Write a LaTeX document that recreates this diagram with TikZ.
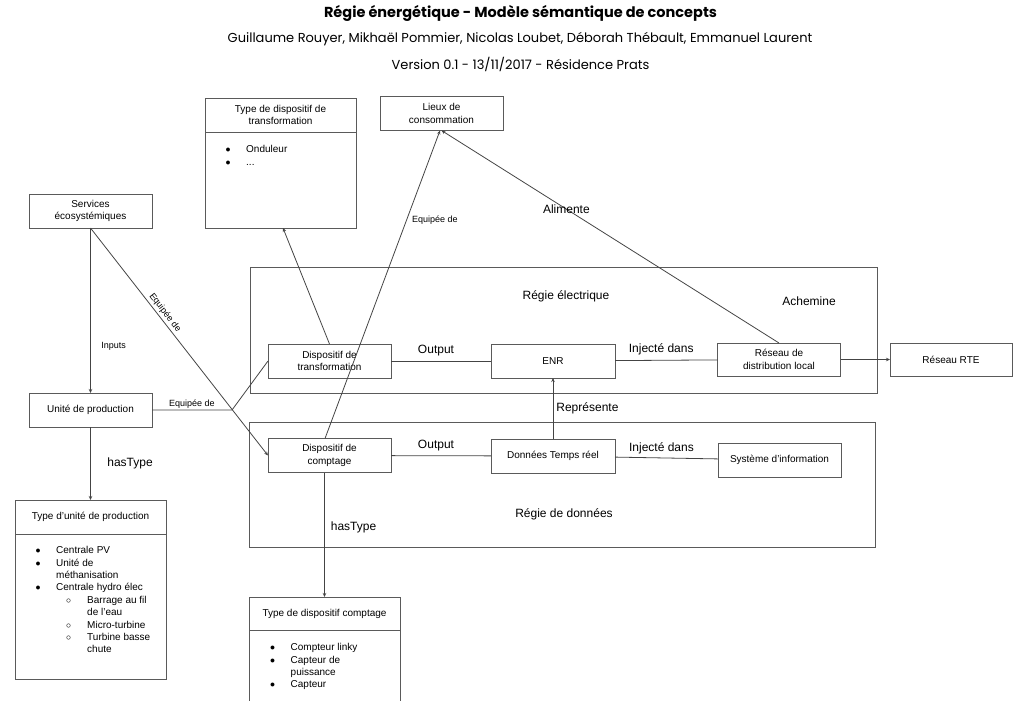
\documentclass[tikz,border=0pt]{standalone}
\usepackage{fontspec}
\setmainfont{Liberation Sans}
\newfontfamily\titrefont{Poppins}
\usetikzlibrary{positioning,arrows.meta}

\definecolor{bordure}{HTML}{5A5A5A}
\definecolor{trait}{HTML}{444444}

\tikzset{
  boite/.style={draw=bordure, line width=1pt, outer sep=0pt, inner sep=1pt,
    minimum width=123pt, minimum height=34pt, align=center,
    font=\fontsize{10}{12.5}\selectfont},
  zone/.style={draw=bordure, line width=1pt, outer sep=0pt},
  liste/.style={align=left, inner sep=0pt, font=\fontsize{10}{12.4}\selectfont},
  petit/.style={font=\fontsize{9}{11}\selectfont, inner sep=0pt},
  grand/.style={font=\fontsize{12}{14}\selectfont, inner sep=0pt},
  lien/.style={draw=trait, line width=0.8pt},
  fleche/.style={-{Stealth[length=4pt,width=3.5pt]}},
}

\newcommand{\puce}{\makebox[20.5pt][l]{$\bullet$}}
\newcommand{\souspuce}{\hspace*{30.5pt}\makebox[21pt][l]{$\circ$}}

\begin{document}
\begin{tikzpicture}[x=1pt,y=-1pt]
  \path[use as bounding box, clip] (0,0) rectangle (1015,701);

  % titre
  \node[font=\titrefont\bfseries\fontsize{14.5}{16}\selectfont] (titre) at (520.5,13)
    {Régie énergétique - Modèle sémantique de concepts};
  \node[font=\titrefont\fontsize{13}{15}\selectfont] (auteurs) at (520,39)
    {Guillaume Rouyer, Mikhaël Pommier, Nicolas Loubet, Déborah Thébault, Emmanuel Laurent};
  \node[font=\titrefont\fontsize{13}{15}\selectfont] (version) at (520.5,64)
    {Version 0.1 - 13/11/2017 - Résidence Prats};

  % regies
  \node[zone, minimum width=627pt, minimum height=126pt] (regieelec) at (563.5,330) {};
  \node[zone, minimum width=626pt, minimum height=125pt] (regiedonnees) at (562,484.5) {};
  \node[grand] (titreelec) at (566,296) {Régie électrique};
  \node[grand] (titredonnees) at (564,514) {Régie de données};
  \node[grand] (achemine) at (809,301) {Achemine};

  % concepts
  \node[boite] (services) at (90.5,211) {Services\\écosystémiques};
  \node[boite] (unite) at (90.5,410) {Unité de production};
  \node[boite] (lieux) at (441.5,113.5) {Lieux de\\consommation};
  \node[boite] (disptransfo) at (329.5,361) {Dispositif de\\transformation};
  \node[boite] (dispcomptage) at (329.5,455.5) {Dispositif de\\comptage};
  \node[boite, minimum width=124pt] (enr) at (553,361) {ENR};
  \node[boite, minimum width=124pt] (donnees) at (553,456) {Données Temps réel};
  \node[boite, minimum height=33pt] (reseau) at (779,359.5) {Réseau de\\distribution local};
  \node[boite] (systeme) at (779.5,460) {Système d’information};
  \node[boite, minimum width=122pt, minimum height=33pt] (rte) at (951,359.5) {Réseau RTE};

  % types
  \node[boite, minimum width=151pt] (tetetransfo) at (280.5,115) {Type de dispositif de\\transformation};
  \node[boite, minimum width=151pt, minimum height=96pt, below=0pt of tetetransfo] (corpstransfo) {};
  \node[liste, below right=13.3pt and 20.5pt of corpstransfo.north west] (listetransfo)
    {\puce Onduleur\\ \puce ...};

  \node[boite, minimum width=151pt] (teteunite) at (90.5,517) {Type d’unité de production};
  \node[boite, minimum width=151pt, minimum height=145pt, below=0pt of teteunite] (corpsunite) {};
  \node[liste, below right=12.3pt and 20.5pt of corpsunite.north west] (listeunite)
    {\puce Centrale PV\\
     \puce Unité de\\
     \hspace*{20.5pt}méthanisation\\
     \puce Centrale hydro élec\\
     \souspuce Barrage au fil\\
     \hspace*{51.5pt}de l’eau\\
     \souspuce Micro-turbine\\
     \souspuce Turbine basse\\
     \hspace*{51.5pt}chute};

  \node[boite, minimum width=151pt, minimum height=33pt] (tetecomptage) at (324.5,613.5) {Type de dispositif comptage};
  \node[boite, minimum width=151pt, minimum height=90pt, below=0pt of tetecomptage] (corpscomptage) {};
  \node[liste, below right=13.3pt and 21pt of corpscomptage.north west] (listecomptage)
    {\puce Compteur linky\\
     \puce Capteur de\\
     \hspace*{20.5pt}puissance\\
     \puce Capteur};

  \coordinate (coude) at (232,410);

  % relations
  \begin{scope}[lien]
    \draw[fleche] (services) -- node[petit, pos=0.72, right=10.5pt] (inputs) {Inputs} (unite);
    \draw[fleche] (unite) -- node[grand, midway, right=16.5pt] (hastypeunite) {hasType} (teteunite);
    \draw[fleche] (services.south) -- node[petit, pos=0.39, sloped, above=2pt] (equipeeservices) {Equipée de} (dispcomptage.west);
    \draw (unite.east) -- node[petit, midway, above=1pt] (equipeeunite) {Equipée de} (coude) -- (disptransfo.west);
    \draw[fleche] (disptransfo.north) -- ([xshift=2.5pt]corpstransfo.south);
    \draw[fleche] ([xshift=-4.5pt]dispcomptage.north) -- node[petit, pos=0.71, right=5pt] (equipeelieux) {Equipée de} ([xshift=-1.5pt]lieux.south);
    \draw[fleche] (reseau.north) -- node[grand, pos=0.63] (alimente) {Alimente} (lieux.south);
    \draw (disptransfo) -- node[grand, midway, above=5pt, xshift=-5pt] (outputelec) {Output} (enr);
    \draw (enr) -- node[grand, midway, above=5pt, xshift=-5pt] (injecteelec) {Injecté dans} (reseau);
    \draw[fleche] (reseau) -- (rte);
    \draw (dispcomptage) -- node[grand, midway, above=4pt, xshift=-5pt] (outputdonnees) {Output} (donnees);
    \draw (donnees) -- node[grand, midway, above=4pt, xshift=-5pt] (injectedonnees) {Injecté dans} (systeme);
    \draw[fleche] (donnees) -- node[grand, midway, right=3pt] (represente) {Représente} (enr);
    \draw[fleche] (dispcomptage.south -| tetecomptage.north) -- node[grand, pos=0.44, right=6pt] (hastypecomptage) {hasType} (tetecomptage.north);
  \end{scope}
\end{tikzpicture}
\end{document}
